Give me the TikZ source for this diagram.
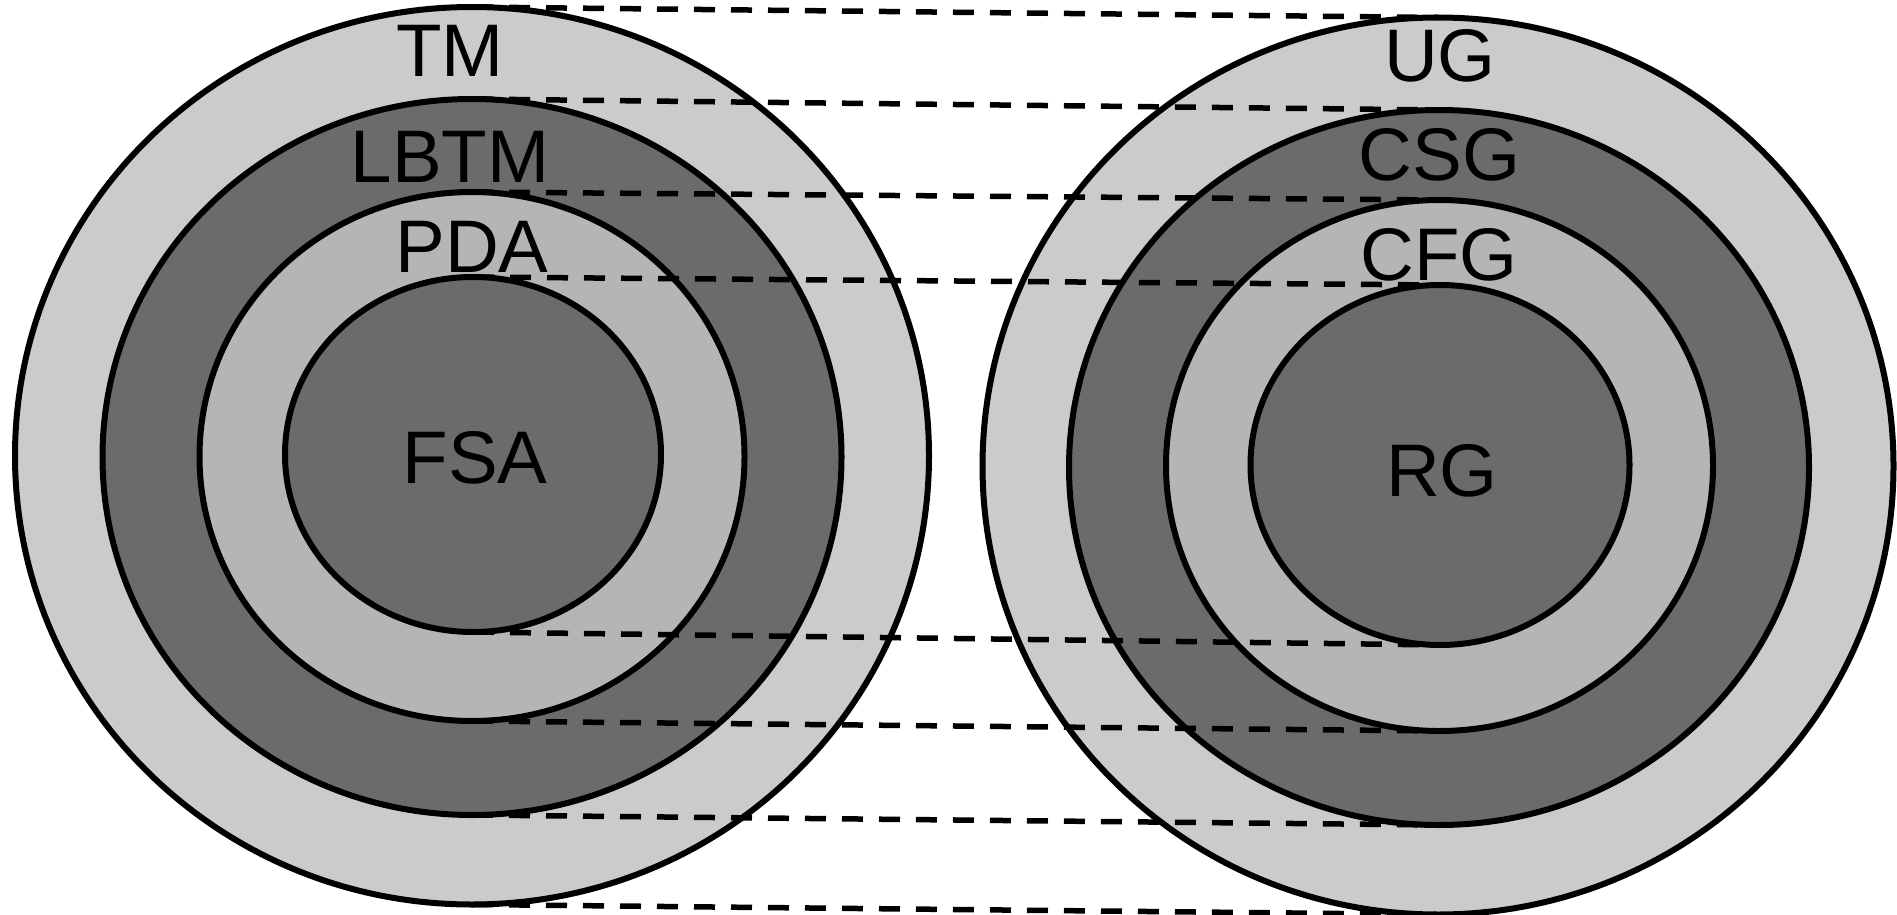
\documentclass[tikz,border=0pt]{standalone}
\usepackage{fontspec}
\setmainfont{Liberation Sans}
\usetikzlibrary{shapes.geometric}
\definecolor{lightfill}{HTML}{CBCBCB}
\definecolor{darkfill}{HTML}{6B6B6B}
\definecolor{midfill}{HTML}{B5B5B5}
\tikzset{
  ring/.style={ellipse, draw=black, line width=6pt, inner sep=0pt, outer sep=0pt},
  lbl/.style={anchor=base, inner sep=0pt, font=\fontsize{74.5}{80}\selectfont},
  link/.style={draw=black, line width=5.5pt, dash pattern=on 21pt off 16pt}
}
\begin{document}
\begin{tikzpicture}[x=1pt,y=-1pt]
\useasboundingbox (0,0) rectangle (1897,915);
% left family
\node[ring, fill=lightfill, minimum width=914pt, minimum height=897.5pt] (tm) at (472,455.75) {};
\node[ring, fill=darkfill, minimum width=739pt, minimum height=716pt] (lbtm) at (472,457) {};
\node[ring, fill=midfill, minimum width=545pt, minimum height=529pt] (pda) at (472,456.5) {};
\node[ring, fill=darkfill, minimum width=376pt, minimum height=355pt] (fsa) at (473,454.5) {};
% right family
\node[ring, fill=lightfill, minimum width=911pt, minimum height=897pt] (ug) at (1438,466) {};
\node[ring, fill=darkfill, minimum width=740pt, minimum height=715pt] (csg) at (1439,467.5) {};
\node[ring, fill=midfill, minimum width=547pt, minimum height=531pt] (cfg) at (1439.5,465.5) {};
\node[ring, fill=darkfill, minimum width=379pt, minimum height=360pt] (rg) at (1440,465) {};
% labels
\node[lbl] (ltm) at (450,77) {TM};
\node[lbl] (llbtm) at (450,182) {LBTM};
\node[lbl] (lpda) at (472,272) {PDA};
\node[lbl] (lfsa) at (475,483) {FSA};
\node[lbl] (lug) at (1440,82) {UG};
\node[lbl] (lcsg) at (1439.5,180) {CSG};
\node[lbl] (lcfg) at (1439,280) {CFG};
\node[lbl] (lrg) at (1442,496) {RG};
% correspondences
\draw[link] (tm.north) -- (ug.north);
\draw[link] (lbtm.north) -- (csg.north);
\draw[link] (pda.north) -- (cfg.north);
\draw[link] (fsa.north) -- (rg.north);
\draw[link] (fsa.south) -- (rg.south);
\draw[link] (pda.south) -- (cfg.south);
\draw[link] (lbtm.south) -- (csg.south);
\draw[link] (tm.south) -- (ug.south);
\end{tikzpicture}
\end{document}
